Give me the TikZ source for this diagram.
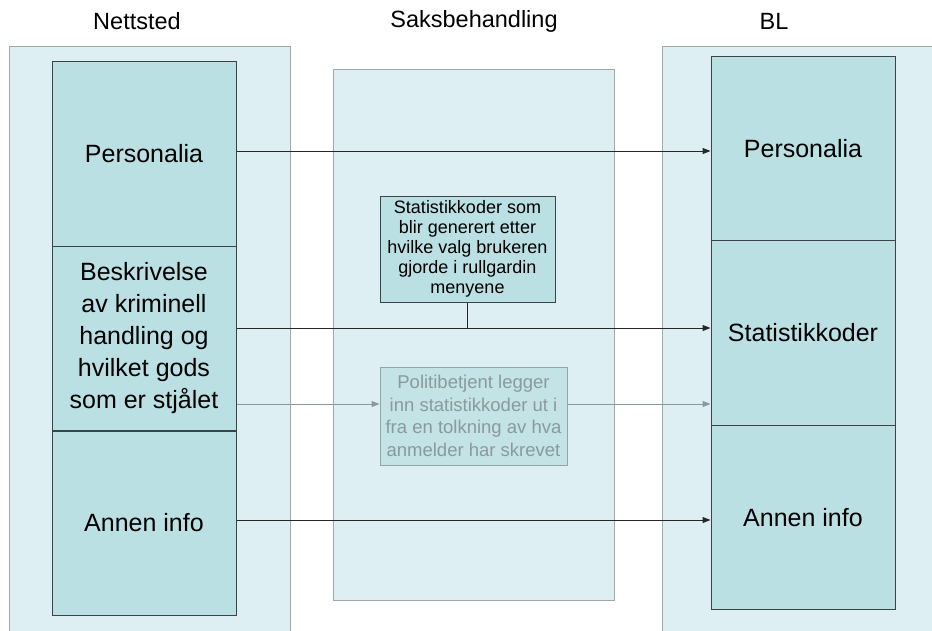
\documentclass[tikz,border=0pt]{standalone}
\usepackage{fontspec}
\setmainfont{Liberation Sans}
\usetikzlibrary{arrows.meta}
\definecolor{panelfill}{HTML}{DDEFF2}
\definecolor{panelline}{HTML}{A0A8AA}
\definecolor{cellfill}{HTML}{BBE0E3}
\definecolor{cellline}{HTML}{3A4448}
\definecolor{softfill}{HTML}{C3E3E6}
\definecolor{softline}{HTML}{94A4A6}
\definecolor{softtext}{HTML}{8A9A9C}
\tikzset{
  panel/.style={draw=panelline, fill=panelfill, line width=1pt},
  cell/.style={draw=cellline, fill=cellfill, line width=1pt, minimum width=184pt, minimum height=184.5pt, inner sep=0pt, font=\fontsize{25}{32}\selectfont, align=center},
  header/.style={font=\fontsize{23.5}{28}\selectfont},
  note/.style={draw=cellline, fill=cellfill, line width=1pt, inner sep=0pt, font=\fontsize{18}{20}\selectfont, align=center},
  softnote/.style={note, draw=softline, fill=softfill, text=softtext, font=\fontsize{18.5}{22.5}\selectfont},
  link/.style={-{Triangle[length=8pt,width=6pt]}, line width=1pt, draw=black!85},
  softlink/.style={link, draw=softtext},
}
\begin{document}
\begin{tikzpicture}[x=1pt,y=-1pt]
\useasboundingbox (0,0) rectangle (932,630);
\clip (0,0) rectangle (932,630);
% background panels
\path[panel] (9,46) rectangle (290,640);
\path[panel] (333,69) rectangle (614,600);
\path[panel] (662,46) rectangle (945,640);
% headers
\node[header] (hNett) at (137,21) {Nettsted};
\node[header] (hSaks) at (474,21) {Saksbehandling};
\node[header] (hBL) at (774,21) {BL};
% left column
\node[cell] (lPers) at (144,154) {Personalia};
\node[cell] (lBesk) at (144,338.5) {Beskrivelse\\av kriminell\\handling og\\hvilket gods\\som er stjålet};
\node[cell, minimum height=184pt] (lAnnen) at (144,523) {Annen info};
% right column
\node[cell] (rPers) at (803,148.5) {Personalia};
\node[cell] (rStat) at (803,333) {Statistikkoder};
\node[cell] (rAnnen) at (803,517.5) {Annen info};
% middle notes
\node[note, minimum width=175pt, minimum height=106pt] (gen) at (467.5,249) {Statistikkoder som\\blir generert etter\\hvilke valg brukeren\\gjorde i rullgardin\\menyene};
\node[softnote, minimum width=187pt, minimum height=98pt] (pol) at (473.5,416) {Politibetjent legger\\inn statistikkoder ut i\\fra en tolkning av hva\\anmelder har skrevet};
% connectors
\draw[link] (lPers.east |- 0,151) -- (rPers.west |- 0,151);
\draw[link] (lBesk.east |- 0,328) -- (rStat.west |- 0,328);
\coordinate (join) at (gen.south |- 0,328);
\draw[line width=1pt, draw=black!85] (gen.south) -- (join);
\draw[softlink] (lBesk.east |- 0,404) -- (pol.west |- 0,404);
\draw[softlink] (pol.east |- 0,404) -- (rStat.west |- 0,404);
\draw[link] (lAnnen.east |- 0,520) -- (rAnnen.west |- 0,520);
\end{tikzpicture}
\end{document}
